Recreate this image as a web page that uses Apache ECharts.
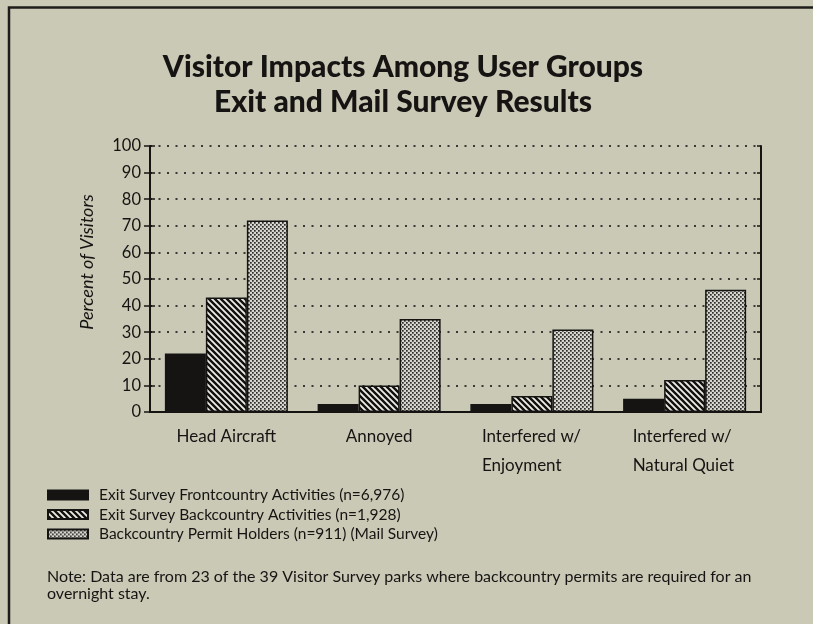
<!DOCTYPE html>
<html>
<head>
<meta charset="utf-8">
<script src="https://cdn.jsdelivr.net/npm/echarts@6/dist/echarts.min.js"></script>
<style>
html,body{margin:0;padding:0;background:#c9c9b6;}
#chart{width:813px;height:624px;}
</style>
</head>
<body>
<div id="chart"></div>
<script>
const titleLines = ['Visitor Impacts Among User Groups', 'Exit and Mail Survey Results'];
const categories = ['Head Aircraft', 'Annoyed', 'Interfered w/\nEnjoyment', 'Interfered w/\nNatural Quiet'];
const seriesNames = [
  'Exit Survey Frontcountry Activities (n=6,976)',
  'Exit Survey Backcountry Activities (n=1,928)',
  'Backcountry Permit Holders (n=911) (Mail Survey)'
];
const frontcountry = [22, 3, 3, 5];
const backcountry = [43, 10, 6, 12];
const permitHolders = [72, 35, 31, 46];
const yTicks = [0, 10, 20, 30, 40, 50, 60, 70, 80, 90, 100];
const yAxisTitle = 'Percent of Visitors';
const noteText = 'Note: Data are from 23 of the 39 Visitor Survey parks where backcountry permits are required for an\novernight stay.';

const FONT = 'Lato, "Open Sans", sans-serif';
const INK = '#161412';

function hatchPattern() {
  const c = document.createElement('canvas');
  c.width = 6; c.height = 6;
  const g = c.getContext('2d');
  g.fillStyle = '#ecebe4'; g.fillRect(0, 0, 6, 6);
  g.strokeStyle = '#121110'; g.lineWidth = 2.4;
  g.beginPath();
  g.moveTo(-3, -3); g.lineTo(9, 9);
  g.moveTo(-9, -3); g.lineTo(3, 9);
  g.moveTo(3, -3); g.lineTo(15, 9);
  g.stroke();
  return c;
}
function dotPattern() {
  const c = document.createElement('canvas');
  c.width = 4; c.height = 4;
  const g = c.getContext('2d');
  g.fillStyle = '#d6d6ce'; g.fillRect(0, 0, 4, 4);
  g.fillStyle = '#2e2c2a';
  g.fillRect(0, 0, 1.7, 1.7);
  g.fillRect(2, 2, 1.7, 1.7);
  return c;
}

const fills = [
  INK,
  { image: hatchPattern(), repeat: 'repeat' },
  { image: dotPattern(), repeat: 'repeat' }
];
const dataSets = [frontcountry, backcountry, permitHolders];

const chart = echarts.init(document.getElementById('chart'), null, { renderer: 'canvas' });
const yBase = { type: 'value', min: 0, max: 100, interval: 10, splitLine: { show: false }, axisLabel: { show: false } };

chart.setOption({
  backgroundColor: '#c9c9b6',
  animation: false,
  textStyle: { fontFamily: FONT, color: INK },
  title: {
    text: titleLines.join('\n'),
    left: 398, top: 45, textAlign: 'center',
    textStyle: { fontFamily: FONT, fontWeight: 900, fontSize: 30, lineHeight: 35, color: INK }
  },
  grid: { left: 150, right: 52, top: 146, bottom: 212, containLabel: false },
  legend: {
    orient: 'vertical', left: 47, top: 487, padding: 0,
    itemWidth: 40, itemHeight: 9, itemGap: 3.5,
    icon: 'rect',
    textStyle: { fontFamily: FONT, fontSize: 15.5, lineHeight: 15, color: INK, padding: [0, 0, 0, 6] },
    data: seriesNames
  },
  xAxis: [{
    type: 'category', data: categories,
    axisLine: { show: true, lineStyle: { color: INK, width: 2 } },
    axisTick: { show: false },
    axisLabel: {
      interval: 0, hideOverlap: false,
      margin: 10, fontSize: 17, fontFamily: FONT, color: INK, lineHeight: 29,
      formatter: function (v) {
        if (v.indexOf('\n') < 0) return v;
        const parts = v.split('\n');
        const key = parts[1].length > 10 ? 'w' : 'n';
        return parts.map(p => '{' + key + '|' + p + '}').join('\n');
      },
      rich: {
        n: { width: 100, align: 'left', fontSize: 17, lineHeight: 29, fontFamily: FONT, color: INK },
        w: { width: 104, align: 'left', fontSize: 17, lineHeight: 29, fontFamily: FONT, color: INK }
      }
    }
  }, {
    type: 'category', data: categories, position: 'top',
    axisLine: { show: true, lineStyle: { color: INK, width: 2 } },
    axisTick: { show: false }, axisLabel: { show: false }
  }],
  yAxis: [
    Object.assign({}, yBase, {
      position: 'left',
      axisLine: { show: true, lineStyle: { color: INK, width: 2 } },
      axisTick: { show: true, length: 6, lineStyle: { color: INK, width: 1.5 } },
      axisLabel: { show: true, margin: 9, fontSize: 16.5, fontFamily: FONT, color: INK,
        formatter: function (v) { return yTicks.indexOf(v) >= 0 ? String(v) : ''; } },
      splitLine: { show: true, lineStyle: { color: '#3a3836', width: 2, type: [2, 6.5] } }
    }),
    Object.assign({}, yBase, {
      position: 'left',
      axisLine: { show: false },
      axisTick: { show: true, inside: true, length: 5, lineStyle: { color: INK, width: 1.5 } }
    }),
    Object.assign({}, yBase, {
      position: 'right',
      axisLine: { show: true, lineStyle: { color: INK, width: 2 } },
      axisTick: { show: true, inside: true, length: 4, lineStyle: { color: INK, width: 1.5 } }
    })
  ],
  series: seriesNames.map((name, i) => ({
    name: name, type: 'bar', data: dataSets[i],
    xAxisIndex: 0, yAxisIndex: 0,
    barWidth: 41, barGap: '0%',
    itemStyle: { color: fills[i], borderColor: INK, borderWidth: 1.5 }
  })),
  graphic: [
    { type: 'polyline', silent: true, shape: { points: [[9, 624], [9, 7.5], [813, 7.5]] },
      style: { stroke: '#1e1c1a', lineWidth: 2.5, fill: null } },
    { type: 'text', x: 87, y: 262, rotation: Math.PI / 2,
      style: { text: yAxisTitle, fontFamily: FONT, fontStyle: 'italic', fontSize: 18, fill: INK,
        align: 'center', verticalAlign: 'middle' } },
    { type: 'text', left: 47, top: 568,
      style: { text: noteText, fontFamily: FONT, fontSize: 16, lineHeight: 17, fill: INK } }
  ]
});
</script>
</body>
</html>
